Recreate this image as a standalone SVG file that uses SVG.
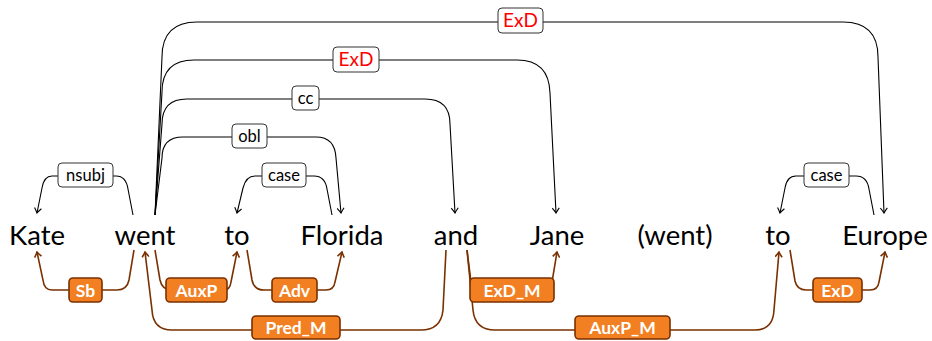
<svg xmlns="http://www.w3.org/2000/svg" width="932" height="341" viewBox="0 0 932 341">
<style>
.w{font-family:Lato,"Noto Sans",sans-serif;font-size:27.5px;fill:#000;text-anchor:middle}
.t{fill:none;stroke:#000;stroke-width:1.1}
.b{fill:none;stroke:#7a3000;stroke-width:1.6}
.lb{fill:#fff;stroke:#333;stroke-width:1}
.lt{font-family:Lato,"Noto Sans",sans-serif;font-size:16.5px;fill:#000;text-anchor:middle}
.rt{font-family:Lato,"Noto Sans",sans-serif;font-size:19px;fill:#ff0000;text-anchor:middle}
.ob{fill:#f27f22;stroke:#7a3000;stroke-width:1.6}
.ot{font-family:Lato,"Noto Sans",sans-serif;font-size:17.5px;font-weight:bold;fill:#fff;text-anchor:middle}
</style>
<defs>
<marker id="ak" viewBox="-6 -4 7 8" refX="0" refY="0" markerWidth="7" markerHeight="8" markerUnits="userSpaceOnUse" orient="auto">
<path d="M-5,-3.5 Q-1.5,-0.8 0,0 Q-1.5,0.8 -5,3.5" fill="none" stroke="#000" stroke-width="1.1"/>
</marker>
<marker id="ab" viewBox="-6 -4 7 8" refX="0" refY="0" markerWidth="7" markerHeight="8" markerUnits="userSpaceOnUse" orient="auto">
<path d="M-5,-3.5 Q-1.5,-0.8 0,0 Q-1.5,0.8 -5,3.5" fill="none" stroke="#7a3000" stroke-width="1.6"/>
</marker>
</defs>
<g id="connectors">
<path class="t" marker-end="url(#ak)" d="M155,215 L162,57 Q162,22 197,22 L843,22 Q878,22 878,57 L884,213"/>
<path class="t" marker-end="url(#ak)" d="M155,215 L162,92 Q162,60 194,60 L517,60 Q549,60 550,93 L556,213"/>
<path class="t" marker-end="url(#ak)" d="M155,215 L162,124 Q162,99 187,99 L425,99 Q450,99 450,124 L455,213"/>
<path class="t" marker-end="url(#ak)" d="M155,215 L162,158 Q162,137 183,137 L316,137 Q335,137 336,158 L341,213"/>
<path class="t" marker-end="url(#ak)" d="M133,215 L128,189 Q126,176 116,176 L52,176 Q44,176 42,188 L37,213"/>
<path class="t" marker-end="url(#ak)" d="M332,215 L327,189 Q325,176 314,176 L255,176 Q246,176 243,188 L237,213"/>
<path class="t" marker-end="url(#ak)" d="M874,215 L869,189 Q867,176 856,176 L796,176 Q787,176 785,188 L780,213"/>
<path class="b" marker-end="url(#ab)" d="M134,250 L129,280 Q127,290 117,290 L52,290 Q44,290 43,280 L37,252"/>
<path class="b" marker-end="url(#ab)" d="M155,250 L160,280 Q162,290 172,290 L224,290 Q230,290 231,282 L237,252"/>
<path class="b" marker-end="url(#ab)" d="M247,250 L252,280 Q254,290 264,290 L326,290 Q334,290 335,282 L342,252"/>
<path class="b" marker-end="url(#ab)" d="M446,250 L443,310 Q441,330 421,330 L172,330 Q153,330 152,310 L145,252"/>
<path class="b" marker-end="url(#ab)" d="M467,250 L471,282 Q472,290 480,290 L546,290 Q551,290 552,282 L557,252"/>
<path class="b" marker-end="url(#ab)" d="M467,250 L473,310 Q475,330 495,330 L755,330 Q773,330 774,310 L779,252"/>
<path class="b" marker-end="url(#ab)" d="M790,250 L795,281 Q797,290 806,290 L870,290 Q878,290 879,282 L885,252"/>
</g>
<g id="w-kate"><text class="w" x="37" y="245">Kate</text></g>
<g id="w-went"><text class="w" x="145" y="245">went</text></g>
<g id="w-to1"><text class="w" x="237" y="245">to</text></g>
<g id="w-florida"><text class="w" x="342" y="245">Florida</text></g>
<g id="w-and"><text class="w" x="456" y="245">and</text></g>
<g id="w-jane"><text class="w" x="557" y="245">Jane</text></g>
<g id="w-went2"><text class="w" x="675" y="245">(went)</text></g>
<g id="w-to2"><text class="w" x="778" y="245">to</text></g>
<g id="w-europe"><text class="w" x="885" y="245">Europe</text></g>
<g id="l-exd1"><rect class="lb" x="498" y="8" width="45" height="25" rx="4"/><text class="rt" x="520.5" y="27">ExD</text></g>
<g id="l-exd2"><rect class="lb" x="333" y="47" width="46" height="25" rx="4"/><text class="rt" x="356" y="66">ExD</text></g>
<g id="l-cc"><rect class="lb" x="292" y="86" width="27" height="24" rx="4"/><text class="lt" x="305.5" y="103.5">cc</text></g>
<g id="l-obl"><rect class="lb" x="232" y="124" width="35" height="24" rx="4"/><text class="lt" x="249.5" y="141.5">obl</text></g>
<g id="l-nsubj"><rect class="lb" x="58" y="163" width="55" height="24" rx="4"/><text class="lt" x="85.5" y="180.5">nsubj</text></g>
<g id="l-case1"><rect class="lb" x="262" y="163" width="44" height="24" rx="4"/><text class="lt" x="284" y="180.5">case</text></g>
<g id="l-case2"><rect class="lb" x="804" y="163" width="45" height="24" rx="4"/><text class="lt" x="826.5" y="180.5">case</text></g>
<g id="l-sb"><rect class="ob" x="69" y="278" width="33" height="24" rx="4"/><text class="ot" x="85.5" y="296.5">Sb</text></g>
<g id="l-auxp"><rect class="ob" x="166" y="278" width="61" height="24" rx="4"/><text class="ot" x="196.5" y="296.5">AuxP</text></g>
<g id="l-adv"><rect class="ob" x="272" y="278" width="45" height="24" rx="4"/><text class="ot" x="294.5" y="296.5">Adv</text></g>
<g id="l-exdm"><rect class="ob" x="470" y="278" width="84" height="24" rx="4"/><text class="ot" x="512" y="296.5">ExD_M</text></g>
<g id="l-exd3"><rect class="ob" x="813" y="278" width="49" height="24" rx="4"/><text class="ot" x="837.5" y="296.5">ExD</text></g>
<g id="l-predm"><rect class="ob" x="252" y="316" width="88" height="23" rx="4"/><text class="ot" x="296" y="334">Pred_M</text></g>
<g id="l-auxpm"><rect class="ob" x="575" y="316" width="95" height="23" rx="4"/><text class="ot" x="622.5" y="334">AuxP_M</text></g>
</svg>
